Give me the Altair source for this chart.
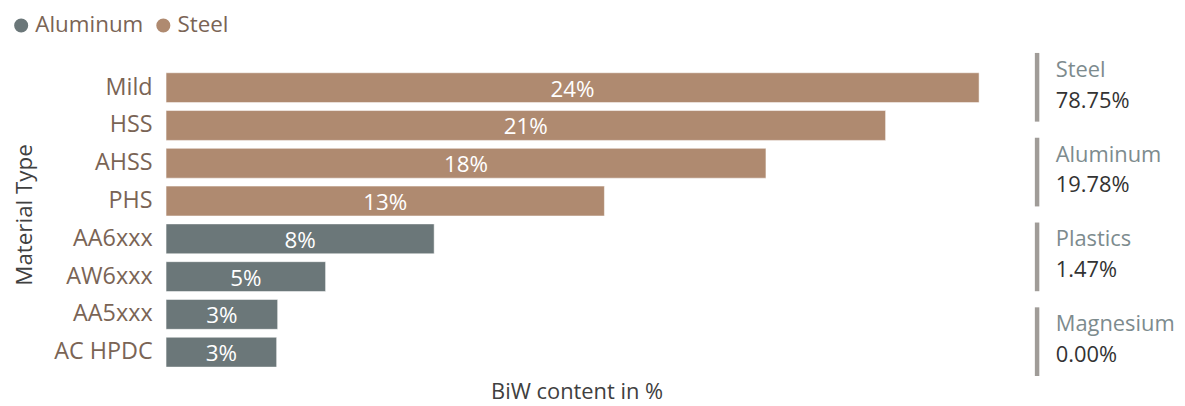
import altair as alt
import pandas as pd

materials = ["Mild", "HSS", "AHSS", "PHS", "AA6xxx", "AW6xxx", "AA5xxx", "AC HPDC"]
groups = ["Steel", "Steel", "Steel", "Steel", "Aluminum", "Aluminum", "Aluminum", "Aluminum"]
shares = [24.26, 21.47, 17.90, 13.08, 8.00, 4.76, 3.33, 3.30]

kpi_names = ["Steel", "Aluminum", "Plastics", "Magnesium"]
kpi_values = [78.75, 19.78, 1.47, 0.00]

legend_order = ["Aluminum", "Steel"]
colors = ["#6B7779", "#AF8A70"]

FONT = "Segoe UI, Open Sans, sans-serif"
LABEL_BROWN = "#7A6455"
TITLE_GRAY = "#404040"

PLOT_W = 826
PLOT_H = 325
KPI_X = 874  # horizontal offset of the KPI panel from the plot's left edge

df = pd.DataFrame({"Material": materials, "Group": groups, "Share": shares})
kdf = pd.DataFrame({"Name": kpi_names, "Value": kpi_values})

yscale = alt.Scale(paddingInner=0.21, paddingOuter=0.38, align=0.69)
xscale = alt.Scale(domain=[0, 24.5], nice=False, zero=True)

bars = alt.Chart(df).mark_bar(stroke="white", strokeWidth=1, strokeOpacity=0.5).encode(
    x=alt.X("Share:Q", scale=xscale,
            axis=alt.Axis(title="BiW content in %", labels=False, ticks=False, domain=False, grid=False,
                          titleFontSize=22, titleFont=FONT, titleColor=TITLE_GRAY,
                          titleFontWeight="normal", titlePadding=6)),
    y=alt.Y("Material:N", sort=materials, scale=yscale,
            axis=alt.Axis(title="Material Type", labelFontSize=23.5, labelColor=LABEL_BROWN, labelFont=FONT,
                          labelPadding=14, ticks=False, domain=False, grid=False,
                          titleFontSize=22.5, titleFont=FONT, titleColor=TITLE_GRAY,
                          titleFontWeight="normal", titlePadding=17)),
    color=alt.Color("Group:N", scale=alt.Scale(domain=legend_order, range=colors),
                    legend=alt.Legend(title=None, orient="none", legendX=-157, legendY=-39,
                                      direction="horizontal", symbolType="circle", symbolSize=200,
                                      labelFontSize=22.5, labelFont=FONT, labelColor=LABEL_BROWN,
                                      columnPadding=8, padding=0, labelOffset=3,
                                      symbolStrokeWidth=0)),
)

labels = alt.Chart(df).transform_calculate(
    Mid="datum.Share / 2",
    Label="format(datum.Share, '.0f') + '%'",
).mark_text(color="white", fontSize=22.5, font=FONT, baseline="middle", dy=2).encode(
    x=alt.X("Mid:Q", scale=xscale),
    y=alt.Y("Material:N", sort=materials, scale=yscale),
    text="Label:N",
)

kyscale = alt.Scale(domain=kpi_names, paddingInner=0.19, paddingOuter=0)
kbase = alt.Chart(kdf).encode(y=alt.Y("Name:N", sort=kpi_names, scale=kyscale, axis=None))

krule = kbase.mark_bar(color="#A09C98").encode(x=alt.value(KPI_X), x2=alt.value(KPI_X + 4.5))
kname = kbase.mark_text(align="left", baseline="alphabetic", dy=-10.5, fontSize=22, font=FONT,
                        color="#7D8B8E").encode(x=alt.value(KPI_X + 21), text="Name:N")
kval = kbase.transform_calculate(
    Txt="format(datum.Value, '.2f') + '%'"
).mark_text(align="left", baseline="alphabetic", dy=20.5, fontSize=22, font=FONT,
            color="#333333").encode(x=alt.value(KPI_X + 21), text="Txt:N")

bar_part = alt.layer(bars, labels)
kpi_part = alt.layer(krule, kname, kval)

chart = alt.layer(bar_part, kpi_part).resolve_scale(y="independent").properties(
    width=PLOT_W, height=PLOT_H,
    autosize=alt.AutoSizeParams(type="none"),
    padding={"left": 159, "top": 44, "right": 191, "bottom": 36},
).configure_view(stroke=None)

chart.save("out.html", embed_options={"renderer": "svg", "actions": False})
